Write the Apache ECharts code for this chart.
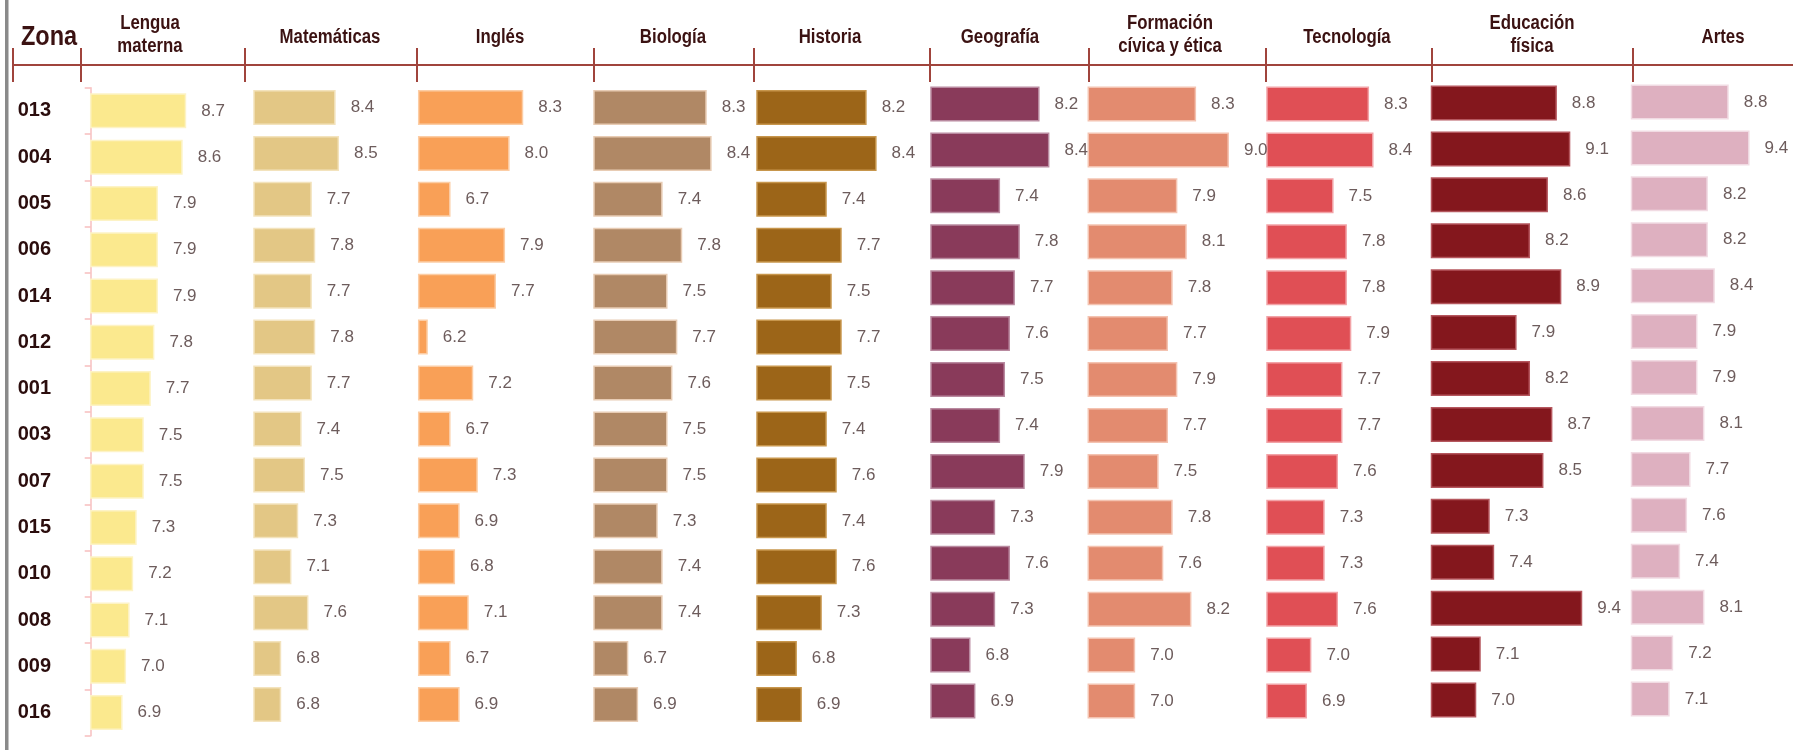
<!DOCTYPE html>
<html>
<head>
<meta charset="utf-8">
<script src="https://cdn.jsdelivr.net/npm/echarts@6/dist/echarts.min.js"></script>
<style>
html,body{margin:0;padding:0;background:#fff;}
#chart{width:1793px;height:750px;}
</style>
</head>
<body>
<div id="chart"></div>
<script>
// ---------- DATA ----------
var zones = ['013','004','005','006','014','012','001','003','007','015','010','008','009','016'];
var subjects = ['Lengua\nmaterna','Matemáticas','Inglés','Biología','Historia','Geografía','Formación\ncívica y ética','Tecnología','Educación\nfísica','Artes'];
var lenguaMaterna = [8.7,8.6,7.9,7.9,7.9,7.8,7.7,7.5,7.5,7.3,7.2,7.1,7.0,6.9];
var matematicas   = [8.4,8.5,7.7,7.8,7.7,7.8,7.7,7.4,7.5,7.3,7.1,7.6,6.8,6.8];
var ingles        = [8.3,8.0,6.7,7.9,7.7,6.2,7.2,6.7,7.3,6.9,6.8,7.1,6.7,6.9];
var biologia      = [8.3,8.4,7.4,7.8,7.5,7.7,7.6,7.5,7.5,7.3,7.4,7.4,6.7,6.9];
var historia      = [8.2,8.4,7.4,7.7,7.5,7.7,7.5,7.4,7.6,7.4,7.6,7.3,6.8,6.9];
var geografia     = [8.2,8.4,7.4,7.8,7.7,7.6,7.5,7.4,7.9,7.3,7.6,7.3,6.8,6.9];
var formacion     = [8.3,9.0,7.9,8.1,7.8,7.7,7.9,7.7,7.5,7.8,7.6,8.2,7.0,7.0];
var tecnologia    = [8.3,8.4,7.5,7.8,7.8,7.9,7.7,7.7,7.6,7.3,7.3,7.6,7.0,6.9];
var educacion     = [8.8,9.1,8.6,8.2,8.9,7.9,8.2,8.7,8.5,7.3,7.4,9.4,7.1,7.0];
var artes         = [8.8,9.4,8.2,8.2,8.4,7.9,7.9,8.1,7.7,7.6,7.4,8.1,7.2,7.1];
var seriesValues = [lenguaMaterna,matematicas,ingles,biologia,historia,geografia,formacion,tecnologia,educacion,artes];
// axis ranges per panel
var axisMin = [6,6,6,6,6,6,6,6,6,6];
var axisMax = [10.24,10.41,9.30,9.06,9.01,9.04,9.20,9.38,9.35,10.32];

// ---------- STYLE / LAYOUT ----------
var colors  = ['#fbe98e','#e3c785','#f9a057','#b08865','#9c6518','#893a5a','#e38b6f','#e04f55','#84171d','#deb0c0'];
var borders = ['#fdf3c6','#f3e3bd','#fccda5','#e8ccb4','#c7964c','#b98aa0','#f4c3b1','#f2a3a7','#b5575e','#f1dbe3'];
var gridLeft = [90.7,254,418.7,594,757,931,1088.3,1267,1431.5,1631.5];
var gridTop  = [87.7,84.5,84.5,84.5,84.5,81,81,81,80,79];
var gridH    = [648,643,643,643,643,643,643,643,643,643];
var headerX  = [150,330,500,673,830,1000,1170,1347,1532,1723];
var tickX    = [13,81,245,417,594,754,930,1089,1266,1432,1633];

var font = "'Liberation Sans Narrow','Arial Narrow','Liberation Sans',Arial,sans-serif";

var grids=[], xAxes=[], yAxes=[], series=[];
for (var i=0;i<10;i++){
  grids.push({left:gridLeft[i], top:gridTop[i], width:150, height:gridH[i], containLabel:false});
  xAxes.push({type:'value', gridIndex:i, min:axisMin[i], max:axisMax[i], show:false, splitLine:{show:false}});
  yAxes.push({
    type:'category', gridIndex:i, data:zones, inverse:true,
    show: i===0,
    axisLine:{show:i===0, lineStyle:{color:'#f7bfbf', width:1.5}},
    axisTick:{show:i===0, length:6, lineStyle:{color:'#f7bfbf', width:1.5}},
    axisLabel:{show:i===0, align:'left', margin:73, color:'#2b0d0d', fontFamily:font, fontWeight:'bold', fontSize:20},
    splitLine:{show:false}
  });
  series.push({
    type:'bar', xAxisIndex:i, yAxisIndex:i, data:seriesValues[i], barWidth:35,
    itemStyle:{color:colors[i], borderColor:borders[i], borderWidth:1.5},
    label:{show:true, position:'right', distance:15, color:'#6d5c5c', fontFamily:font, fontSize:17,
      formatter:function(p){return p.value.toFixed(1);}},
    silent:true, animation:false
  });
}

var graphics = [];
graphics.push({type:'rect', shape:{x:5,y:0,width:3.5,height:750}, style:{fill:'#8a8a8a'}});
graphics.push({type:'line', shape:{x1:13,y1:65,x2:1793,y2:65}, style:{stroke:'#a0443c', lineWidth:2}});
tickX.forEach(function(x){
  graphics.push({type:'line', shape:{x1:x,y1:48,x2:x,y2:82}, style:{stroke:'#a0443c', lineWidth:2}});
});
function txt(t,x,y,size){
  return {type:'text', x:x, y:y, scaleX:0.84, style:{text:t, x:0, y:0, font:'bold '+size+'px '+font, fill:'#3b1212',
    textAlign:'center', textVerticalAlign:'middle', align:'center', verticalAlign:'middle', lineHeight:23}};
}
graphics.push(txt('Zona',49,37,28));
subjects.forEach(function(s,i){
  var y = s.indexOf('\n')>=0 ? 35 : 37;
  graphics.push(txt(s, headerX[i], y, 20));
});

var chart = echarts.init(document.getElementById('chart'));
chart.setOption({
  animation:false,
  grid:grids, xAxis:xAxes, yAxis:yAxes, series:series,
  graphic:graphics
});
</script>
</body>
</html>
